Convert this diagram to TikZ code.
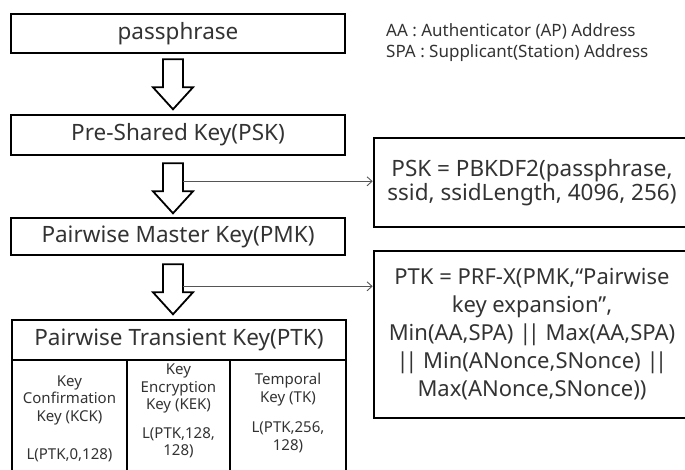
\documentclass[tikz,border=0pt]{standalone}
\usepackage{fontspec}
\setmainfont{Noto Sans}
\usetikzlibrary{calc,arrows.meta}
\definecolor{txt}{HTML}{333333}
\definecolor{conn}{HTML}{555555}
\newcommand{\dbar}{|\kern-3.5pt|}
\begin{document}
\begin{tikzpicture}[x=1pt,y=-1pt,
  box/.style={draw=black, line width=2.6pt, minimum width=334pt, inner sep=0pt, text=txt, font=\fontsize{22.5}{26}\selectfont},
  cell/.style={text=txt, align=center, font=\fontsize{15}{17.5}\selectfont, inner sep=0pt},
  fbox/.style={draw=black, line width=2.6pt, inner sep=0pt, text=txt, align=center},
  divider/.style={draw=black, line width=2.2pt},
  connline/.style={draw=conn, line width=0.9pt, -{Straight Barb[length=5pt,width=9pt]}},
  pics/blockarrow/.style={code={\draw[line width=1.8pt, fill=white, line join=miter]
     (-10,0) -- (10,0) -- (10,28) -- (20,28) -- (0,50) -- (-20,28) -- (-10,28) -- cycle;}}
]
\useasboundingbox (0,0) rectangle (685,470);
\clip (0,0) rectangle (685,470);

% left column boxes
\node[box, minimum height=39pt] (pass) at (178,33.5) {passphrase};
\node[box, minimum height=40pt] (psk) at (178,135) {Pre-Shared Key(PSK)};
\node[box, minimum height=37pt] (pmk) at (178,236.5) {Pairwise Master Key(PMK)};
\node[box, minimum height=40pt] (ptk) at (179,340) {Pairwise Transient Key(PTK)};
\node[draw=black, line width=2.6pt, minimum width=334pt, minimum height=124pt, inner sep=0pt] (ptkbody) at (179,422) {};
\draw[divider] (127,360) -- (127,490);
\draw[divider] (230,360) -- (230,490);

% sub-cells
\node[cell] (kck) at (69.5,419) {Key\\Confirmation\\Key (KCK)\\[21pt]L(PTK,0,128)};
\node[cell] (kek) at (178.5,411) {Key\\Encryption\\Key (KEK)\\[11pt]L(PTK,128,\\128)};
\node[cell] (tk) at (288,413) {Temporal\\Key (TK)\\[13pt]L(PTK,256,\\128)};

% block arrows
\coordinate (a1) at ($(pass.south)+(-5,5)$);
\coordinate (a2) at ($(psk.south)+(-5,7)$);
\coordinate (a3) at ($(pmk.south)+(-5,8)$);
\pic at (a1) {blockarrow};
\pic at (a2) {blockarrow};
\pic at (a3) {blockarrow};

% legend
\node[anchor=north west, align=left, text=txt, inner sep=0pt, font=\fontsize{17}{21}\selectfont] (legend) at (386,23)
  {AA : Authenticator (AP) Address\\SPA : Supplicant(Station) Address};

% formula boxes
\node[fbox, minimum width=316pt, minimum height=89pt, font=\fontsize{22.5}{24.5}\selectfont] (pskf) at (532,182.5)
  {PSK = PBKDF2(passphrase,\\ssid, ssidLength, 4096, 256)};
\node[fbox, minimum width=316pt, minimum height=167pt, font=\fontsize{22}{28}\selectfont] (ptkf) at (532,334.5)
  {PTK = PRF-X(PMK,“Pairwise\\key expansion”,\\Min(AA,SPA) \dbar\ Max(AA,SPA)\\\dbar\ Min(ANonce,SNonce) \dbar\\Max(ANonce,SNonce))};

% connectors
\coordinate (c1) at ($(a2)+(10,18)$);
\coordinate (c2) at ($(a3)+(10,22)$);
\draw[connline] (c1) -- (c1 -| pskf.west);
\draw[connline] (c2) -- (c2 -| ptkf.west);
\end{tikzpicture}
\end{document}
